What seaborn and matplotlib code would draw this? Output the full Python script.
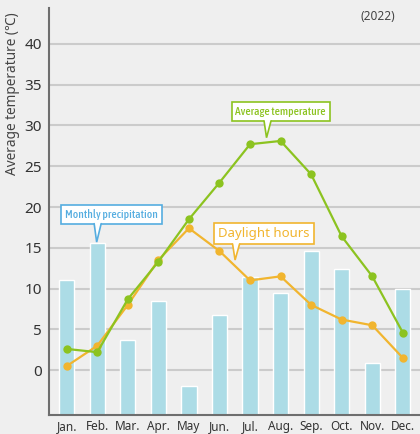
import numpy as np
import pandas as pd
import matplotlib
matplotlib.use("Agg")
import matplotlib.pyplot as plt
import seaborn as sns

months = ["Jan.", "Feb.", "Mar.", "Apr.", "May", "Jun.", "Jul.", "Aug.", "Sep.", "Oct.", "Nov.", "Dec."]
# bar tops read on the temperature scale (precipitation drawn on shared scale)
precip_top = [11.0, 15.6, 3.7, 8.5, -2.0, 6.8, 11.4, 9.4, 14.6, 12.4, 0.9, 9.9]
avg_temp = [2.6, 2.2, 8.7, 13.3, 18.5, 23.0, 27.7, 28.1, 24.0, 16.4, 11.5, 4.6]
daylight = [0.5, 3.0, 8.0, 13.5, 17.4, 14.6, 11.0, 11.5, 8.0, 6.2, 5.5, 1.5]
yticks = [0, 5, 10, 15, 20, 25, 30, 35, 40]

YMIN, YMAX = -5.5, 44.4
BG = "#efefef"
BAR_C = "#acdce6"
GREEN = "#8cc320"
ORANGE = "#f1b52f"
BLUE = "#55ade0"

sns.set_theme(style="white")
plt.rcParams["font.family"] = ["Noto Sans", "DejaVu Sans"]

fig = plt.figure(figsize=(4.2, 4.34), dpi=100, facecolor=BG)
ax = fig.add_axes([49/420, 1-415/434, 1-49/420 + 0.01, (415-8)/434])
ax.set_facecolor(BG)

df = pd.DataFrame({"month": months, "precip": precip_top, "temp": avg_temp, "sun": daylight})
df["height"] = df["precip"] - YMIN

for v in yticks:
    ax.axhline(v, color="#cbcbcb", lw=1.5, zorder=0)

sns.barplot(data=df, x="month", y="height", bottom=YMIN, color=BAR_C, width=0.5,
            saturation=1, ax=ax, zorder=2)

xs = np.arange(len(months))
sns.lineplot(x=xs, y=df["sun"], color=ORANGE, lw=1.6, marker="o", markersize=6,
             markeredgewidth=0, ax=ax, zorder=4)
sns.lineplot(x=xs, y=df["temp"], color=GREEN, lw=1.6, marker="o", markersize=6,
             markeredgewidth=0, ax=ax, zorder=5)

ax.set_xlim(-0.58, 11.7)
ax.set_ylim(YMIN, YMAX)
ax.set_yticks(yticks)
ax.set_yticklabels([str(v) for v in yticks], fontsize=11, color="#333333")
ax.set_xticks(xs)
ax.set_xticklabels(months, fontsize=8.5, color="#333333")
ax.tick_params(axis="both", length=0)
ax.tick_params(axis="x", pad=3.5)
ax.tick_params(axis="y", pad=5)
ax.set_xlabel("")
ax.set_ylabel("Average temperature (℃)", fontsize=9.8, color="#444444")
ax.yaxis.set_label_coords(-0.077, 0.789)

for s in ["top", "right"]:
    ax.spines[s].set_visible(False)
for s in ["left", "bottom"]:
    ax.spines[s].set_color("#6e6e6e")
    ax.spines[s].set_linewidth(1.5)

fig.text(395/420, 1-16/434, "(2022)", fontsize=8.5, color="#444444", ha="right", va="center")

nfam = ["Asap Condensed", "DejaVu Sans"]
callouts = [
    ("Monthly precipitation", (1.47, 19.1), (0.98, 15.7), BLUE, 8.3, nfam, 500),
    ("Average temperature", (7.0, 31.7), (6.54, 28.5), GREEN, 8.3, nfam, 500),
    ("Daylight hours", (6.46, 16.75), (5.51, 13.5), ORANGE, 9.5, ["Noto Sans", "DejaVu Sans"], "normal"),
]
texts = []
for label, (bx, by), tip, col, fs, fam, wt in callouts:
    pad = 0.3 if fs > 9 else 0.33
    t = ax.text(bx, by, label, ha="center", va="center", fontsize=fs, color=col,
                family=fam, fontweight=wt, zorder=10,
                bbox=dict(boxstyle=f"square,pad={pad}", fc="white", ec=col, lw=1.2))
    texts.append((t, tip, col))

fig.canvas.draw()
inv = ax.transData.inverted()
for t, tip, col in texts:
    bb = t.get_bbox_patch().get_window_extent()
    tipd = ax.transData.transform(tip)
    bottom = bb.y0
    hw = 3.5
    pts = np.array([[tipd[0]-hw+1, bottom+1.2], [tipd[0], tipd[1]], [tipd[0]+hw+1, bottom+1.2]])
    poly = plt.Polygon(inv.transform(pts), closed=True, fc="white", ec="none", zorder=11)
    ax.add_patch(poly)
    pts2 = np.array([[tipd[0]-hw+1, bottom], [tipd[0], tipd[1]], [tipd[0]+hw+1, bottom]])
    d2 = inv.transform(pts2)
    ax.plot(d2[:, 0], d2[:, 1], color=col, lw=1.2, zorder=12, solid_joinstyle="miter")

fig.savefig("out.png", dpi=100, facecolor=BG)
